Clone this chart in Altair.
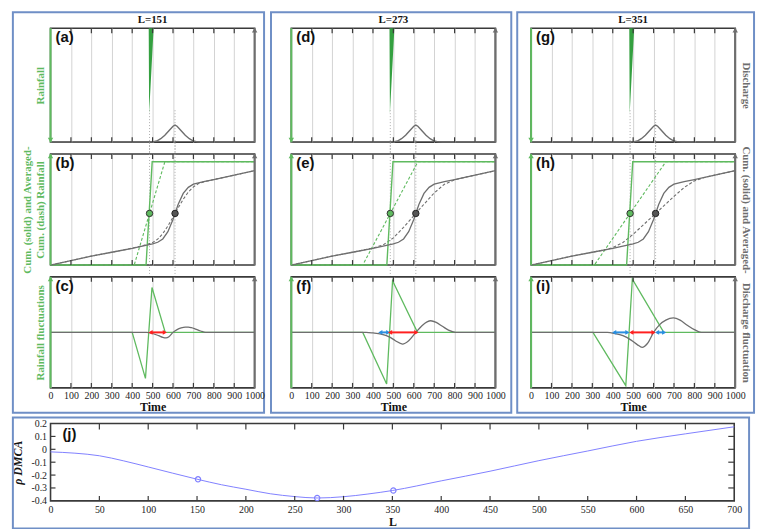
import altair as alt
import pandas as pd

SERIF = "Liberation Serif"
SANS = "Liberation Sans"
GREEN = "#5fba5f"
GREEN_FILL = "#34a040"
GRAY = "#6e6e6e"
FRAME = "#3a3a3a"
BOX = "#6f8fc6"
RED = "#ff2020"
BLUE = "#2a8fe0"
RHO_BLUE = "#8080ff"

# ---------------- data ----------------
Ls = [151, 273, 351]
letters = [["(a)", "(b)", "(c)"], ["(d)", "(e)", "(f)"], ["(g)", "(h)", "(i)"]]
time_ticks = [0, 100, 200, 300, 400, 500, 600, 700, 800, 900, 1000]

# rainfall pulse
rain_t = [0, 481, 483, 505, 1000]
rain_v = [0, 0, 0.75, 0, 0]

# discharge hydrograph
q_t = [0, 480, 500, 520, 540, 560, 580, 600, 610, 620, 640, 660, 680, 700, 720, 740, 1000]
q_v = [0, 0, 0.002, 0.01, 0.03, 0.06, 0.10, 0.14, 0.15, 0.14, 0.10, 0.06, 0.03, 0.01, 0.002, 0, 0]

# cumulative rainfall (solid) and averaged cumulative rainfall (dash) per L
cum_rain_t = [0, 468, 498, 1000]
cum_rain_v = [0, 0, 0.93, 0.93]
avg_rain_t = [[0, 410, 560, 1000], [0, 350, 620, 1000], [0, 310, 660, 1000]]
avg_rain_v = [0, 0, 0.93, 0.93]

# cumulative discharge (solid)
cum_q_t = [0, 100, 200, 300, 400, 450, 500, 525, 550, 575, 600, 625, 650, 675, 700, 725, 750, 800, 900, 1000]
cum_q_v = [0, 0.04, 0.08, 0.115, 0.15, 0.17, 0.19, 0.205, 0.235, 0.30, 0.41, 0.545, 0.645, 0.70, 0.728, 0.74,
           0.752, 0.77, 0.81, 0.85]

# averaged cumulative discharge (dash) per L
avg_q_t = [
    [0, 100, 200, 300, 400, 450, 500, 525, 550, 575, 600, 625, 650, 675, 700, 725, 750, 800, 900, 1000],
    [0, 100, 200, 300, 400, 450, 500, 550, 600, 650, 700, 750, 800, 850, 900, 1000],
    [0, 100, 200, 300, 350, 400, 450, 500, 550, 600, 650, 700, 750, 800, 850, 900, 1000],
]
avg_q_v = [
    [0, 0.04, 0.08, 0.115, 0.152, 0.173, 0.202, 0.233, 0.283, 0.352, 0.431, 0.514, 0.592, 0.658, 0.704, 0.734,
     0.749, 0.77, 0.81, 0.85],
    [0, 0.04, 0.08, 0.115, 0.153, 0.181, 0.244, 0.34, 0.444, 0.548, 0.649, 0.728, 0.767, 0.79, 0.81, 0.85],
    [0, 0.04, 0.08, 0.115, 0.133, 0.157, 0.203, 0.277, 0.362, 0.447, 0.533, 0.618, 0.699, 0.758, 0.789, 0.81,
     0.85],
]

# rainfall fluctuations per L
fl_rain_t = [[0, 400, 465, 497, 562, 1000], [0, 350, 467, 496, 618, 1000], [0, 303, 464, 496, 650, 1000]]
fl_rain_v = [[0, 0, -0.83, 0.81, 0, 0], [0, 0, -0.93, 0.93, 0, 0], [0, 0, -0.96, 0.96, 0, 0]]

# discharge fluctuations per L
fl_q_t = [
    [0, 470, 500, 530, 550, 566, 580, 600, 620, 640, 660, 675, 690, 710, 735, 760, 1000],
    [0, 366, 400, 440, 480, 510, 545, 575, 610, 640, 665, 683, 710, 740, 770, 805, 1000],
    [0, 374, 410, 450, 490, 520, 544, 570, 600, 630, 660, 697, 730, 765, 800, 834, 1000],
]
fl_q_v = [
    [0, 0, -0.02, -0.06, -0.09, -0.10, -0.08, 0.0, 0.05, 0.08, 0.095, 0.095, 0.085, 0.06, 0.025, 0, 0],
    [0, 0, -0.01, -0.03, -0.08, -0.15, -0.21, -0.15, 0, 0.12, 0.19, 0.21, 0.18, 0.11, 0.04, 0, 0],
    [0, 0, -0.02, -0.06, -0.14, -0.22, -0.27, -0.20, 0, 0.14, 0.22, 0.26, 0.22, 0.13, 0.05, 0, 0],
]

# fluctuation interval arrows (start, end)
red_arrows = [[(490, 560)], [(484, 613)], [(491, 600)]]
blue_arrows = [[], [(436, 475)], [(407, 472), (617, 652)]]

# half-cumulative markers
marker_rain = (485, 0.465)
marker_q = (610, 0.465)
guide_t = [485, 610]

# rho_DMCA vs L
rho_L = [0, 25, 50, 75, 100, 125, 150, 175, 200, 225, 250, 273, 300, 325, 350, 400, 450, 500, 550, 600, 650, 700]
rho_v = [-0.02, -0.03, -0.05, -0.09, -0.137, -0.185, -0.232, -0.275, -0.31, -0.345, -0.367, -0.378, -0.368,
         -0.347, -0.32, -0.245, -0.17, -0.088, -0.013, 0.062, 0.12, 0.175]
rho_mark_L = [151, 273, 351]
rho_mark_v = [-0.233, -0.378, -0.32]
L_ticks = [0, 50, 100, 150, 200, 250, 300, 350, 400, 450, 500, 550, 600, 650, 700]
rho_ticks = [-0.4, -0.3, -0.2, -0.1, 0, 0.1, 0.2]

# ---------------- layout ----------------
W = 206
HS = [115, 112, 112]
BOX_X = [(-38, 215.5), (-20.5, 222), (-14, 225)]
BOX_Y = (-16, 388)
WJ, HJ = 690, 78

one = pd.DataFrame({"k": [0]})


def xenc(show):
    if show:
        axis = alt.Axis(values=time_ticks, format="d", grid=True, gridColor="#d2d2d2", gridWidth=1, ticks=False,
                        domain=False, labelFont=SERIF, labelFontSize=10, labelColor="#222", labelPadding=3,
                        labelFlush=False, labelOverlap=False, title="Time", titleFont=SERIF,
                        titleFontSize=12, titleFontWeight="bold", titleColor="#111", titlePadding=1)
    else:
        axis = alt.Axis(values=time_ticks, grid=True, gridColor="#d2d2d2", gridWidth=1, ticks=False,
                        domain=False, labels=False, title=None)
    return alt.X("t:Q", scale=alt.Scale(domain=[0, 1000], nice=False, zero=False), axis=axis)


def title_axis(orient, title, color):
    return alt.Axis(orient=orient, title=title, titleColor=color, titleFont=SERIF, titleFontSize=11,
                    titleFontWeight="bold", titlePadding=5, labels=False, ticks=False, domain=False, grid=False)


def frame_layers(h, show, left_down=False):
    ticks = pd.DataFrame({"t": time_ticks[1:-1]})
    x = xenc(show)
    out = [
        alt.Chart(ticks).mark_rule(color=FRAME, strokeWidth=1.2).encode(x=x, y=alt.value(0), y2=alt.value(5)),
        alt.Chart(ticks).mark_rule(color=FRAME, strokeWidth=1.2).encode(x=x, y=alt.value(h), y2=alt.value(h - 5)),
        alt.Chart(one).mark_rule(color=GREEN, strokeWidth=2).encode(x=alt.value(0), y=alt.value(0), y2=alt.value(h)),
        alt.Chart(one).mark_rule(color=GRAY, strokeWidth=2).encode(x=alt.value(W), y=alt.value(0), y2=alt.value(h)),
        alt.Chart(one).mark_point(shape="triangle-down" if left_down else "triangle-up", filled=True, size=30,
                                  color=GREEN, opacity=1).encode(x=alt.value(0),
                                                                 y=alt.value(h - 2 if left_down else 2)),
        alt.Chart(one).mark_point(shape="triangle-up", filled=True, size=30, color=GRAY,
                                  opacity=1).encode(x=alt.value(W), y=alt.value(2)),
    ]
    return out


def label_layer(text, x=5, y=2):
    return alt.Chart(pd.DataFrame({"lab": [text]})).mark_text(
        align="left", baseline="top", font=SANS, fontSize=15, fontWeight="bold", color="#111"
    ).encode(x=alt.value(x), y=alt.value(y), text="lab:N")


def guides(show, y0, y1):
    return alt.Chart(pd.DataFrame({"t": guide_t})).mark_rule(
        color="#9a9a9a", strokeWidth=0.8, strokeDash=[1, 2]
    ).encode(x=xenc(show), y=alt.value(y0), y2=alt.value(y1))


def panel_top(c):
    h = HS[0]
    rain_axis = title_axis("left", "Rainfall", GREEN) if c == 0 else None
    q_axis = title_axis("right", "Discharge", GRAY) if c == 2 else None
    rain = alt.Chart(pd.DataFrame({"t": rain_t, "v": rain_v})).mark_area(
        color=GREEN_FILL, opacity=1).encode(
        x=xenc(False), y=alt.Y("v:Q", scale=alt.Scale(domain=[0, 1], reverse=True, nice=False), axis=rain_axis))
    q = alt.Chart(pd.DataFrame({"t": q_t, "v": q_v})).mark_line(color=GRAY, strokeWidth=1.4).encode(
        x=xenc(False), y=alt.Y("v:Q", scale=alt.Scale(domain=[0, 1], nice=False), axis=q_axis))
    box = alt.Chart(one).mark_rect(fillOpacity=0, stroke=BOX, strokeWidth=2).encode(
        x=alt.value(BOX_X[c][0]), x2=alt.value(BOX_X[c][1]), y=alt.value(BOX_Y[0]), y2=alt.value(BOX_Y[1]))
    col_title = alt.Chart(pd.DataFrame({"lab": [f"L={Ls[c]}"]})).mark_text(
        align="center", baseline="middle", font=SERIF, fontSize=11, fontWeight="bold", color="#111"
    ).encode(x=alt.value(W / 2), y=alt.value(-8), text="lab:N")
    layers = [guides(False, h * 0.72, h + 12), rain, q] + frame_layers(h, False, left_down=True) + \
             [label_layer(letters[c][0]), col_title, box]
    return alt.layer(*layers).resolve_scale(y="independent").properties(width=W, height=h)


def panel_mid(c):
    h = HS[1]
    if c == 0:
        ax = title_axis("left", ["Cum. (solid) and Averaged-", "Cum. (dash) Rainfall"], GREEN)
    elif c == 2:
        ax = title_axis("right", "Cum. (solid) and Averaged-", GRAY)
    else:
        ax = None
    y = alt.Y("v:Q", scale=alt.Scale(domain=[0, 1], nice=False), axis=ax)
    x = xenc(False)
    gd = alt.Chart(pd.DataFrame({"t": avg_rain_t[c], "v": avg_rain_v})).mark_line(
        color=GREEN, strokeWidth=1.1, strokeDash=[3, 2]).encode(x=x, y=y)
    qd = alt.Chart(pd.DataFrame({"t": avg_q_t[c], "v": avg_q_v[c]})).mark_line(
        color=GRAY, strokeWidth=1.1, strokeDash=[3, 2]).encode(x=x, y=y)
    gs = alt.Chart(pd.DataFrame({"t": cum_rain_t, "v": cum_rain_v})).mark_line(
        color=GREEN, strokeWidth=1.4).encode(x=x, y=y)
    qs = alt.Chart(pd.DataFrame({"t": cum_q_t, "v": cum_q_v})).mark_line(
        color=GRAY, strokeWidth=1.3).encode(x=x, y=y)
    mg = alt.Chart(pd.DataFrame({"t": [marker_rain[0]], "v": [marker_rain[1]]})).mark_point(
        filled=True, size=42, color=GREEN, stroke="#333", strokeWidth=1, opacity=1).encode(x=x, y=y)
    mq = alt.Chart(pd.DataFrame({"t": [marker_q[0]], "v": [marker_q[1]]})).mark_point(
        filled=True, size=42, color="#555", stroke="#222", strokeWidth=1, opacity=1).encode(x=x, y=y)
    layers = [guides(False, -12, h + 12), gd, qd, gs, qs, mg, mq] + frame_layers(h, False) + \
             [label_layer(letters[c][1])]
    return alt.layer(*layers).properties(width=W, height=h)


def arrow_layers(pairs, color, x, y):
    if not pairs:
        return []
    seg = pd.DataFrame({"t": [p[0] for p in pairs], "t2": [p[1] for p in pairs], "v": [0] * len(pairs)})
    heads = pd.DataFrame({
        "t": [p[0] for p in pairs] + [p[1] for p in pairs],
        "v": [0] * (2 * len(pairs)),
        "s": ["triangle-left"] * len(pairs) + ["triangle-right"] * len(pairs),
    })
    return [
        alt.Chart(seg).mark_rule(color=color, strokeWidth=2).encode(x=x, x2="t2:Q", y=y),
        alt.Chart(heads).mark_point(filled=True, size=24, color=color, opacity=1).encode(
            x=x, y=y, shape=alt.Shape("s:N", scale=None)),
    ]


def panel_bot(c):
    h = HS[2]
    if c == 0:
        ax = title_axis("left", "Rainfall fluctuations", GREEN)
    elif c == 2:
        ax = title_axis("right", "Discharge fluctuation", GRAY)
    else:
        ax = None
    y = alt.Y("v:Q", scale=alt.Scale(domain=[-1, 1], nice=False), axis=ax)
    x = xenc(True)
    g = alt.Chart(pd.DataFrame({"t": fl_rain_t[c], "v": fl_rain_v[c]})).mark_line(
        color=GREEN, strokeWidth=1.3).encode(x=x, y=y)
    q = alt.Chart(pd.DataFrame({"t": fl_q_t[c], "v": fl_q_v[c]})).mark_line(
        color=GRAY, strokeWidth=1.3, interpolate="monotone").encode(x=x, y=y)
    layers = [g, q] + arrow_layers(blue_arrows[c], BLUE, x, y) + arrow_layers(red_arrows[c], RED, x, y) + \
             frame_layers(h, True) + [label_layer(letters[c][2])]
    return alt.layer(*layers).properties(width=W, height=h)


columns = [alt.vconcat(panel_top(c), panel_mid(c), panel_bot(c), spacing=12, bounds="flush") for c in range(3)]
top_row = alt.hconcat(*columns, spacing=2)

# ---------------- panel (j) ----------------
xj = alt.X("L:Q", scale=alt.Scale(domain=[0, 700], nice=False, zero=False),
           axis=alt.Axis(values=L_ticks, format="d", ticks=False, domain=False, grid=False, labelFont=SERIF,
                         labelFontSize=10, labelColor="#222", labelPadding=4, labelFlush=False,
                         labelOverlap=False, title="L", titleFont=SERIF, titleFontSize=12,
                         titleFontWeight="bold", titleColor="#111", titlePadding=1.5))
yj = alt.Y("r:Q", scale=alt.Scale(domain=[-0.4, 0.2], nice=False, zero=False),
           axis=alt.Axis(values=rho_ticks, ticks=False, domain=False, grid=False, labelFont=SERIF,
                         labelFontSize=10, labelColor="#222", labelPadding=4, labelOverlap=False,
                         labelExpr="datum.value == 0 ? '0' : (datum.value < 0 ? '-' + format(-datum.value, '.1f') : format(datum.value, '.1f'))",
                         title="ρ DMCA", titleFont=SERIF, titleFontSize=12, titleFontStyle="italic",
                         titleFontWeight="bold", titleColor="#111", titlePadding=6))

rho_line = alt.Chart(pd.DataFrame({"L": rho_L, "r": rho_v})).mark_line(
    color=RHO_BLUE, strokeWidth=1, interpolate="monotone").encode(x=xj, y=yj)
rho_pts = alt.Chart(pd.DataFrame({"L": rho_mark_L, "r": rho_mark_v})).mark_point(
    filled=False, size=28, color=RHO_BLUE, strokeWidth=1.2, opacity=1).encode(x=xj, y=yj)
jx_ticks = pd.DataFrame({"L": L_ticks[1:-1]})
jy_ticks = pd.DataFrame({"r": rho_ticks[1:-1]})
j_layers = [
    rho_line, rho_pts,
    alt.Chart(jx_ticks).mark_rule(color=FRAME, strokeWidth=1.2).encode(x=xj, y=alt.value(0), y2=alt.value(6)),
    alt.Chart(jx_ticks).mark_rule(color=FRAME, strokeWidth=1.2).encode(x=xj, y=alt.value(HJ), y2=alt.value(HJ - 5)),
    alt.Chart(jy_ticks).mark_rule(color=FRAME, strokeWidth=1.2).encode(y=yj, x=alt.value(0), x2=alt.value(5)),
    alt.Chart(jy_ticks).mark_rule(color=FRAME, strokeWidth=1.2).encode(y=yj, x=alt.value(WJ), x2=alt.value(WJ - 6)),
    label_layer("(j)", x=12, y=4),
    alt.Chart(one).mark_rect(fillOpacity=0, stroke=BOX, strokeWidth=2).encode(
        x=alt.value(-38), x2=alt.value(705), y=alt.value(-6), y2=alt.value(106)),
]
panel_j = alt.layer(*j_layers).properties(width=WJ, height=HJ)

chart = alt.vconcat(top_row, panel_j, spacing=1).properties(
    padding={"left": 11, "top": 8, "right": 2, "bottom": 0},
    background="white",
).configure_view(stroke=FRAME, strokeWidth=1.6)

chart.save("out.html", embed_options={"renderer": "svg", "actions": False})
